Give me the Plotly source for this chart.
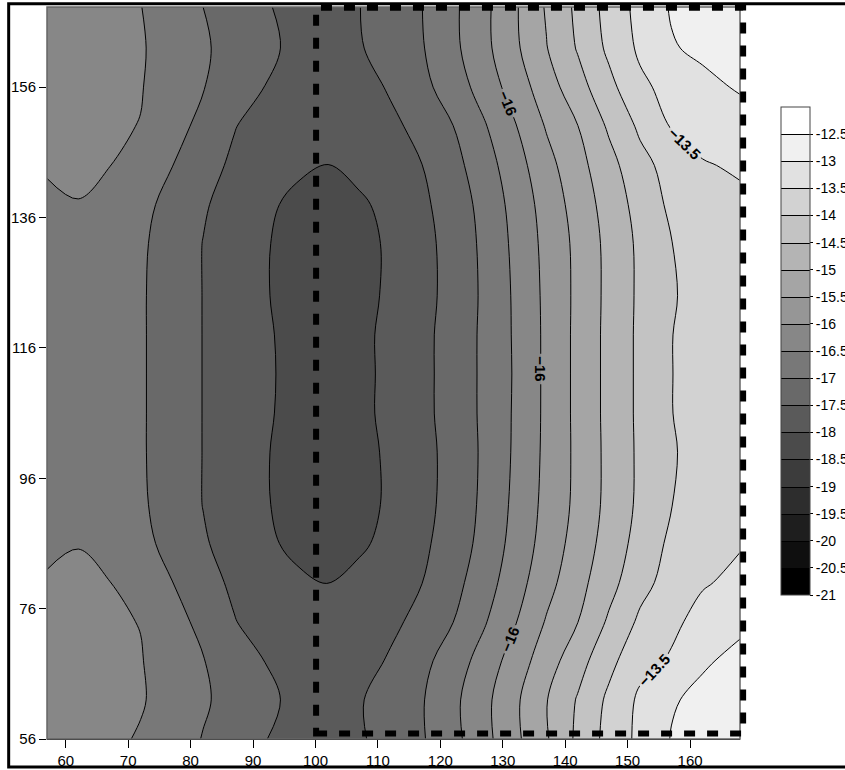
import plotly.graph_objects as go

# ---- grid ----
x_nodes = [57, 62, 67, 72, 77, 82, 87, 92, 97, 102, 107, 112, 117, 122, 127, 132, 137, 142, 147, 152, 157, 162, 168]
y_nodes = [56, 62, 68, 74, 80, 86, 92, 100, 106, 112, 118, 124, 132, 138, 144, 150, 156, 162, 168.3]

z_y056 = [-16.30, -16.35, -16.43, -16.53, -16.77, -17.02, -17.24, -17.49, -17.66, -17.72, -17.56, -17.31, -17.05, -16.65, -16.16, -15.61, -15.05, -14.40, -13.83, -13.38, -12.98, -12.85, -12.75]
z_y062 = [-16.28, -16.33, -16.40, -16.47, -16.64, -16.94, -17.17, -17.39, -17.62, -17.78, -17.54, -17.29, -17.04, -16.62, -16.14, -15.59, -15.02, -14.46, -13.90, -13.41, -13.04, -12.90, -12.80]
z_y068 = [-16.30, -16.36, -16.42, -16.48, -16.70, -16.98, -17.25, -17.51, -17.72, -17.84, -17.73, -17.44, -17.14, -16.76, -16.30, -15.77, -15.23, -14.70, -14.14, -13.65, -13.45, -13.05, -12.90]
z_y074 = [-16.35, -16.40, -16.45, -16.51, -16.82, -17.13, -17.48, -17.70, -17.88, -17.90, -17.87, -17.62, -17.34, -17.01, -16.55, -16.03, -15.46, -15.01, -14.43, -13.91, -13.60, -13.35, -13.08]
z_y080 = [-16.47, -16.44, -16.49, -16.73, -16.99, -17.33, -17.58, -17.75, -17.92, -18.01, -17.86, -17.68, -17.51, -17.16, -16.73, -16.21, -15.67, -15.17, -14.67, -14.16, -13.81, -13.54, -13.40]
z_y086 = [-16.56, -16.51, -16.70, -16.89, -17.12, -17.45, -17.69, -17.92, -18.10, -18.17, -18.08, -17.86, -17.60, -17.27, -16.85, -16.33, -15.80, -15.30, -14.79, -14.32, -13.90, -13.70, -13.53]
z_y092 = [-16.62, -16.66, -16.76, -16.93, -17.21, -17.51, -17.74, -17.97, -18.15, -18.22, -18.15, -17.93, -17.66, -17.32, -16.90, -16.39, -15.86, -15.38, -14.86, -14.40, -14.01, -13.82, -13.68]
z_y100 = [-16.66, -16.70, -16.80, -16.95, -17.22, -17.51, -17.74, -17.97, -18.18, -18.26, -18.17, -17.91, -17.66, -17.34, -16.92, -16.43, -15.89, -15.39, -14.87, -14.41, -14.04, -13.84, -13.70]
z_y106 = [-16.68, -16.72, -16.81, -16.95, -17.22, -17.51, -17.72, -17.94, -18.15, -18.24, -18.12, -17.88, -17.63, -17.31, -16.91, -16.44, -15.90, -15.38, -14.86, -14.40, -14.01, -13.82, -13.68]
z_y112 = [-16.68, -16.72, -16.81, -16.95, -17.22, -17.51, -17.71, -17.93, -18.14, -18.24, -18.13, -17.88, -17.63, -17.31, -16.91, -16.45, -15.90, -15.38, -14.86, -14.40, -14.01, -13.82, -13.68]
z_y118 = [-16.68, -16.72, -16.81, -16.95, -17.22, -17.51, -17.72, -17.94, -18.15, -18.24, -18.12, -17.88, -17.63, -17.31, -16.91, -16.44, -15.90, -15.38, -14.86, -14.40, -14.01, -13.82, -13.68]
z_y124 = [-16.66, -16.70, -16.80, -16.95, -17.22, -17.51, -17.74, -17.97, -18.18, -18.26, -18.17, -17.91, -17.66, -17.34, -16.92, -16.43, -15.89, -15.39, -14.87, -14.41, -14.04, -13.84, -13.70]
z_y132 = [-16.62, -16.66, -16.76, -16.93, -17.21, -17.51, -17.74, -17.97, -18.15, -18.22, -18.15, -17.93, -17.66, -17.32, -16.90, -16.39, -15.86, -15.38, -14.86, -14.40, -14.01, -13.82, -13.68]
z_y138 = [-16.56, -16.51, -16.70, -16.89, -17.12, -17.45, -17.69, -17.92, -18.10, -18.17, -18.08, -17.86, -17.60, -17.27, -16.85, -16.33, -15.80, -15.30, -14.79, -14.32, -13.90, -13.72, -13.58]
z_y144 = [-16.47, -16.44, -16.49, -16.73, -16.99, -17.33, -17.58, -17.75, -17.92, -18.01, -17.86, -17.68, -17.51, -17.16, -16.73, -16.21, -15.67, -15.17, -14.67, -14.16, -13.81, -13.53, -13.45]
z_y150 = [-16.35, -16.40, -16.45, -16.51, -16.82, -17.13, -17.48, -17.70, -17.88, -17.90, -17.87, -17.62, -17.34, -17.01, -16.55, -16.03, -15.46, -15.01, -14.43, -13.91, -13.47, -13.35, -13.22]
z_y156 = [-16.30, -16.36, -16.42, -16.48, -16.70, -16.98, -17.25, -17.51, -17.72, -17.84, -17.73, -17.44, -17.14, -16.76, -16.30, -15.77, -15.23, -14.70, -14.14, -13.61, -13.33, -13.13, -12.95]
z_y162 = [-16.28, -16.33, -16.40, -16.47, -16.64, -16.94, -17.17, -17.39, -17.62, -17.78, -17.54, -17.29, -17.04, -16.62, -16.14, -15.59, -15.02, -14.46, -13.90, -13.41, -13.04, -12.90, -12.80]
z_y168 = [-16.30, -16.35, -16.42, -16.49, -16.75, -17.00, -17.23, -17.45, -17.68, -17.72, -17.51, -17.26, -17.01, -16.60, -16.13, -15.56, -14.95, -14.39, -13.82, -13.34, -12.96, -12.85, -12.75]

z_grid = [z_y056, z_y062, z_y068, z_y074, z_y080, z_y086, z_y092, z_y100, z_y106, z_y112,
          z_y118, z_y124, z_y132, z_y138, z_y144, z_y150, z_y156, z_y162, z_y168]

# colour levels / legend
cbar_ticks = [-21, -20.5, -20, -19.5, -19, -18.5, -18, -17.5, -17, -16.5, -16, -15.5, -15,
              -14.5, -14, -13.5, -13, -12.5]
cbar_labels = ["-21", "-20.5", "-20", "-19.5", "-19", "-18.5", "-18", "-17.5", "-17", "-16.5",
               "-16", "-15.5", "-15", "-14.5", "-14", "-13.5", "-13", "-12.5"]
x_ticks = [60, 70, 80, 90, 100, 110, 120, 130, 140, 150, 160]
y_ticks = [56, 76, 96, 116, 136, 156]
x_range = [57, 168]
y_range = [56, 168.3]
box_x = [100.1, 168.5]
box_y = [56.85, 168.2]

gray = [[0, "rgb(0,0,0)"], [1, "rgb(255,255,255)"]]
FONT = "Arial, Liberation Sans, sans-serif"

fig = go.Figure()
common = dict(x=x_nodes, y=y_nodes, z=z_grid, hoverinfo="skip", autocontour=False)

# trace carrying the colour bar (hidden underneath)
fig.add_trace(go.Contour(
    **common, colorscale=gray, zmin=-21, zmax=-12,
    contours=dict(start=-20.5, end=-12.5, size=0.5, coloring="fill", showlines=True),
    line=dict(color="black", width=1, smoothing=1),
    colorbar=dict(thickness=29, thicknessmode="pixels", len=488, lenmode="pixels",
                  x=1.0592, xanchor="left", y=0.530, yanchor="middle", xpad=0, ypad=0,
                  outlinecolor="#444", outlinewidth=1,
                  tickmode="array", tickvals=cbar_ticks, ticktext=cbar_labels,
                  ticks="outside", ticklen=3, tickcolor="black",
                  tickfont=dict(family=FONT, size=14, color="black"))))
# filled bands
fig.add_trace(go.Contour(
    **common, colorscale=gray, zmin=-21, zmax=-12, showscale=False,
    contours=dict(start=-20.5, end=-12.5, size=0.5, coloring="fill", showlines=False),
    line=dict(width=0, smoothing=1)))
# unlabeled contour lines
for s, e in [(-18, -16.5), (-15.5, -14), (-13, -12.5)]:
    fig.add_trace(go.Contour(
        **common, showscale=False,
        contours=dict(start=s, end=e, size=0.5, coloring="none"),
        line=dict(color="black", width=1, smoothing=1)))
# labeled contour lines (-16 and -13.5)
fig.add_trace(go.Contour(
    **common, showscale=False,
    contours=dict(start=-16, end=131.5, size=2.5, coloring="none", showlabels=True,
                  labelfont=dict(family=FONT, size=15, color="black", weight="bold")),
    line=dict(color="black", width=1, smoothing=1)))

def px_x(v):
    return (v - x_range[0]) / (x_range[1] - x_range[0])

def px_y(v):
    return (v - y_range[0]) / (y_range[1] - y_range[0])

shapes = [
    dict(type="rect", xref="paper", yref="paper", x0=0, x1=1, y0=0, y1=1,
         line=dict(color="#666", width=1.5)),
    dict(type="rect", xref="paper", yref="paper",
         x0=px_x(box_x[0]), x1=px_x(box_x[1]), y0=px_y(box_y[0]), y1=px_y(box_y[1]),
         line=dict(color="black", width=6, dash="11px,12px")),
    dict(type="rect", xref="paper", yref="paper", x0=-0.0553, x1=1.2, y0=-0.0383, y1=1.0045,
         line=dict(color="black", width=3)),
]

fig.update_layout(
    width=845, height=770, margin=dict(l=47, r=105, t=7, b=31, autoexpand=False),
    paper_bgcolor="white", plot_bgcolor="white", showlegend=False,
    font=dict(family=FONT, color="black"),
    xaxis=dict(range=x_range, tickmode="array", tickvals=x_ticks, ticks="outside", ticklen=8,
               tickcolor="black", showgrid=False, zeroline=False, showline=True,
               linecolor="black", linewidth=1, automargin=False,
               tickfont=dict(family=FONT, size=15, color="black")),
    yaxis=dict(range=y_range, tickmode="array", tickvals=y_ticks, ticks="outside", ticklen=7,
               tickcolor="black", showgrid=False, zeroline=False, showline=False, automargin=False,
               tickfont=dict(family=FONT, size=15, color="black")),
    shapes=shapes,
)

fig.write_html("out.html")
